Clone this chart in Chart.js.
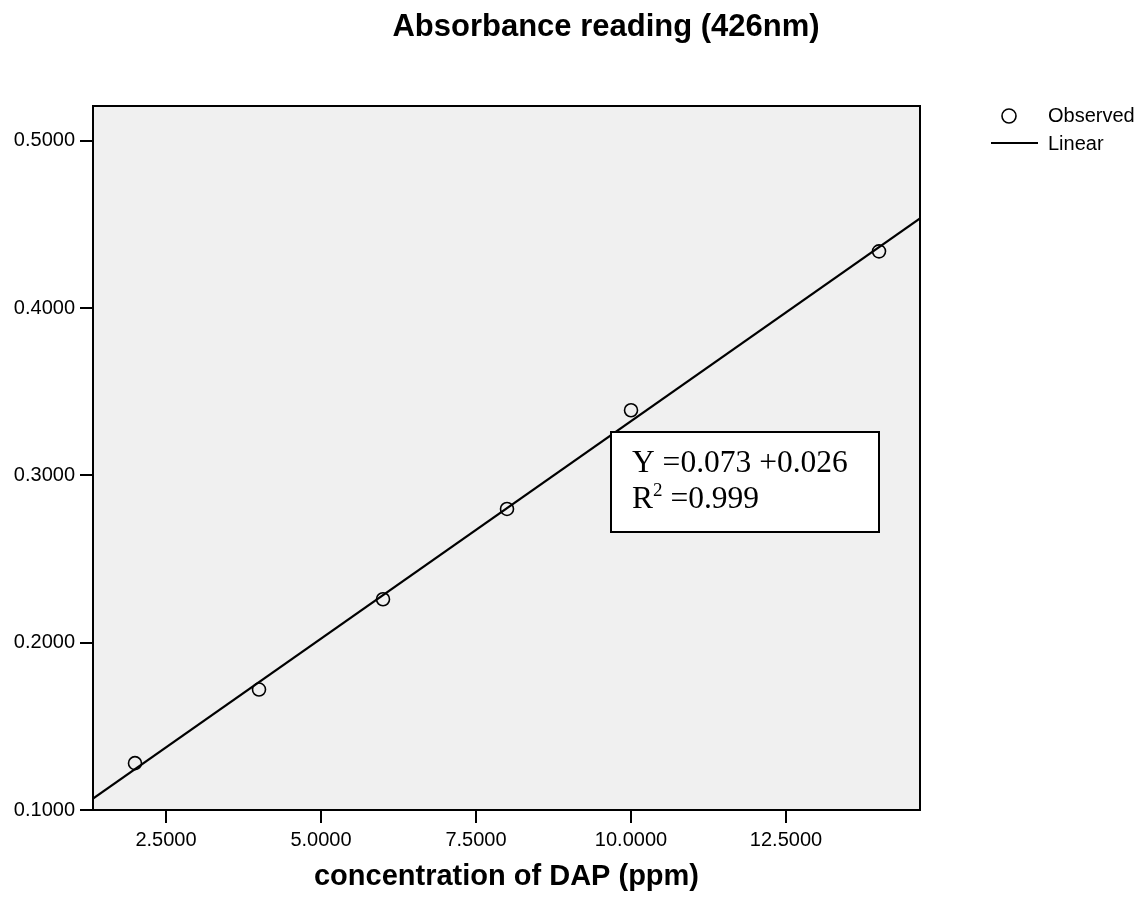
<!DOCTYPE html>
<html>
<head>
<meta charset="utf-8">
<title>Absorbance reading (426nm)</title>
<script src="https://cdn.jsdelivr.net/npm/chart.js@4/dist/chart.umd.min.js"></script>
<style>
  html, body { margin: 0; padding: 0; background: #fff; }
</style>
</head>
<body>
<canvas id="chart" width="1147" height="897"></canvas>
<script>
// data
const concentration = [2, 4, 6, 8, 10, 14]
const absorbance    = [0.128, 0.172, 0.226, 0.280, 0.339, 0.434]
const xTicks        = [2.5, 5, 7.5, 10, 12.5]
const yTicks        = [0.1, 0.2, 0.3, 0.4, 0.5]
const xRange        = [1.3226, 14.661]
const yRange        = [0.1, 0.5209]
const chartTitle    = 'Absorbance reading (426nm)'
const xTitle        = 'concentration of DAP (ppm)'
const fitLine1      = 'Y =0.073 +0.026'
const fitLine2      = ['R', '2', ' =0.999']

const sans  = "'Liberation Sans', Arial, Helvetica, sans-serif"
const serif = "'Liberation Serif', 'Times New Roman', serif"

// least squares fit of the observed points (as the stats package did)
function linearFit(xs, ys) {
  const n = xs.length
  const mx = xs.reduce((a, b) => a + b, 0) / n
  const my = ys.reduce((a, b) => a + b, 0) / n
  let sxy = 0, sxx = 0
  xs.forEach((x, i) => { sxy += (x - mx) * (ys[i] - my); sxx += (x - mx) * (x - mx) })
  const slope = sxy / sxx
  return { slope: slope, intercept: my - slope * mx }
}

const fit = linearFit(concentration, absorbance)
const observed = concentration.map((x, i) => ({ x: x, y: absorbance[i] }))
const linear = xRange.map(x => ({ x: x, y: fit.intercept + fit.slope * x }))

const decorations = {
  id: 'decorations',
  beforeDraw(chart) {
    const { ctx, chartArea: a } = chart
    ctx.save()
    ctx.fillStyle = '#f0f0f0'
    ctx.fillRect(a.left, a.top, a.right - a.left, a.bottom - a.top)
    ctx.restore()
  },
  afterDatasetsDraw(chart) {
    const { ctx, chartArea: a } = chart
    ctx.save()
    ctx.strokeStyle = '#000'
    ctx.lineWidth = 2
    ctx.strokeRect(a.left, a.top, a.right - a.left, a.bottom - a.top)

    // equation box
    ctx.fillStyle = '#fff'
    ctx.fillRect(611, 432, 268, 100)
    ctx.strokeRect(611, 432, 268, 100)
    ctx.fillStyle = '#000'
    ctx.textBaseline = 'alphabetic'
    ctx.textAlign = 'left'
    ctx.font = '31.5px ' + serif
    ctx.fillText(fitLine1, 632, 472)
    let x = 632
    ctx.fillText(fitLine2[0], x, 508)
    x += ctx.measureText(fitLine2[0]).width
    ctx.font = '19px ' + serif
    ctx.fillText(fitLine2[1], x, 496)
    x += ctx.measureText(fitLine2[1]).width
    ctx.font = '31.5px ' + serif
    ctx.fillText(fitLine2[2], x, 508)
    ctx.restore()
  },
  afterDraw(chart) {
    const { ctx } = chart
    const sets = chart.data.datasets
    ctx.save()
    ctx.fillStyle = '#000'
    ctx.strokeStyle = '#000'

    // title
    ctx.font = 'bold 31px ' + sans
    ctx.textAlign = 'center'
    ctx.textBaseline = 'alphabetic'
    ctx.fillText(chartTitle, 606, 36)

    // legend
    ctx.textAlign = 'left'
    ctx.textBaseline = 'middle'
    ctx.font = '20px ' + sans
    ctx.lineWidth = 1.6
    ctx.beginPath()
    ctx.arc(1009, 116, 7, 0, Math.PI * 2)
    ctx.stroke()
    ctx.fillText(sets[0].label, 1048, 116)
    ctx.lineWidth = 2
    ctx.beginPath()
    ctx.moveTo(991, 143)
    ctx.lineTo(1038, 143)
    ctx.stroke()
    ctx.fillText(sets[1].label, 1048, 144)
    ctx.restore()
  }
}

new Chart(document.getElementById('chart'), {
  type: 'scatter',
  data: {
    datasets: [
      {
        label: 'Observed',
        data: observed,
        pointStyle: 'circle',
        pointRadius: 6.5,
        pointHoverRadius: 6.5,
        pointBorderWidth: 1.6,
        pointBorderColor: '#000',
        pointBackgroundColor: 'rgba(0,0,0,0)',
        showLine: false,
        order: 2
      },
      {
        label: 'Linear',
        data: linear,
        showLine: true,
        borderColor: '#000',
        borderWidth: 2.2,
        pointRadius: 0,
        order: 1
      }
    ]
  },
  options: {
    responsive: false,
    animation: false,
    devicePixelRatio: 1,
    layout: { padding: { top: 106, right: 227, left: 0, bottom: 0 } },
    plugins: {
      legend: { display: false },
      title: { display: false },
      tooltip: { enabled: false }
    },
    scales: {
      x: {
        type: 'linear',
        min: xRange[0],
        max: xRange[1],
        afterFit: s => { s.height = 87 },
        afterBuildTicks: s => { s.ticks = xTicks.map(v => ({ value: v })) },
        grid: { drawOnChartArea: false, drawTicks: true, tickLength: 13, color: '#000', lineWidth: 2 },
        border: { display: true, color: '#000', width: 2 },
        ticks: {
          color: '#000',
          padding: 5,
          maxRotation: 0,
          font: { family: sans, size: 20 },
          callback: v => v.toFixed(4)
        },
        title: {
          display: true,
          text: xTitle,
          color: '#000',
          font: { family: sans, size: 29, weight: 'bold' },
          padding: { top: 0, bottom: 3 }
        }
      },
      y: {
        type: 'linear',
        min: yRange[0],
        max: yRange[1],
        afterFit: s => { s.width = 93 },
        afterBuildTicks: s => { s.ticks = yTicks.map(v => ({ value: v })) },
        grid: { drawOnChartArea: false, drawTicks: true, tickLength: 13, color: '#000', lineWidth: 2 },
        border: { display: true, color: '#000', width: 2 },
        ticks: {
          color: '#000',
          padding: 5,
          font: { family: sans, size: 20 },
          callback: v => v.toFixed(4)
        }
      }
    }
  },
  plugins: [decorations]
})
</script>
</body>
</html>
